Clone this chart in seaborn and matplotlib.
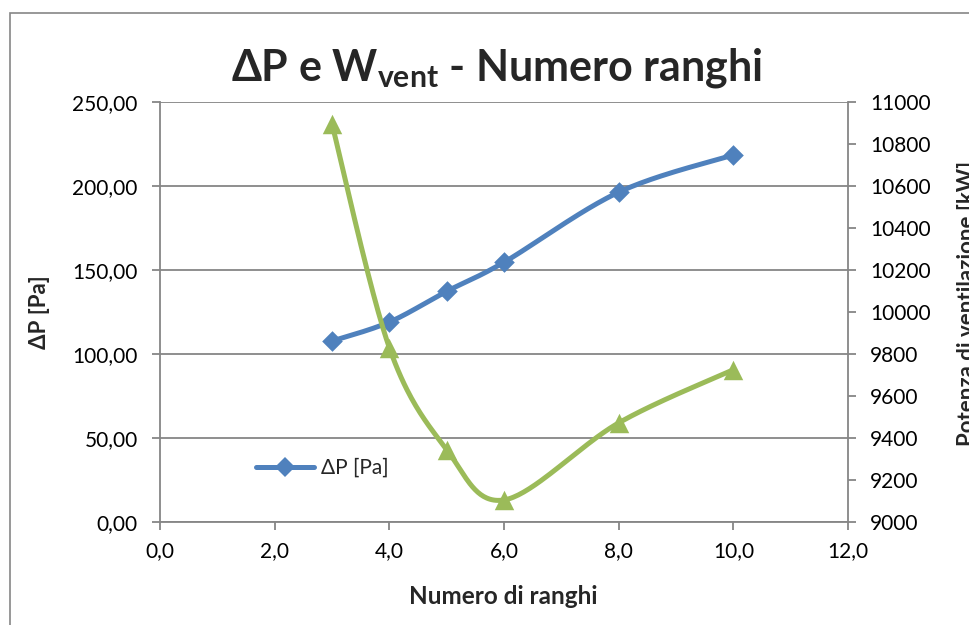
import numpy as np
import pandas as pd
import matplotlib
matplotlib.use("Agg")
import matplotlib.pyplot as plt
import seaborn as sns
from matplotlib.lines import Line2D
from matplotlib.patches import Rectangle
from matplotlib.ticker import FuncFormatter, MultipleLocator

# ---- data ----
ranghi = [3, 4, 5, 6, 8, 10]
delta_p = [107.7, 119.0, 137.3, 154.6, 196.3, 218.5]
w_vent = [10895, 9830, 9345, 9105, 9472, 9725]

title_main = "ΔP e W"
title_sub = "vent"
title_tail = " - Numero ranghi"
xlabel = "Numero di ranghi"
ylabel_left = "ΔP [Pa]"
ylabel_right = "Potenza di ventilazione [kW]"
legend_label = "ΔP [Pa]"

BLUE = "#4F81BD"
GREEN = "#9BBB59"
GRID = "#868686"

sns.set_theme(style="white")
plt.rcParams["font.family"] = ["Lato", "DejaVu Sans"]
plt.rcParams["mathtext.fontset"] = "custom"
plt.rcParams["mathtext.rm"] = "Lato"
plt.rcParams["mathtext.bf"] = "Lato:bold"


def smooth(xs, ys, n=40):
    """Excel-like smoothed line (Catmull-Rom / Bezier) through data points."""
    p = np.column_stack([xs, ys]).astype(float)
    pp = np.vstack([p[0], p, p[-1]])
    out = []
    t = np.linspace(0, 1, n)[:, None]
    for i in range(len(p) - 1):
        p0, p1, p2, p3 = pp[i], pp[i + 1], pp[i + 2], pp[i + 3]
        b1 = p1 + (p2 - p0) / 6.0
        b2 = p2 - (p3 - p1) / 6.0
        seg = ((1 - t) ** 3) * p1 + 3 * ((1 - t) ** 2) * t * b1 + 3 * (1 - t) * t ** 2 * b2 + t ** 3 * p2
        out.append(seg if i == 0 else seg[1:])
    s = np.vstack(out)
    return pd.DataFrame({"x": s[:, 0], "y": s[:, 1]})


W, H = 969, 625
fig = plt.figure(figsize=(W / 100, H / 100), dpi=100)
fig.patch.set_facecolor("white")
ax = fig.add_axes([160 / W, 1 - 522 / H, (848 - 160) / W, (522 - 102) / H])
ax2 = ax.twinx()

# chart border
fig.patches.append(Rectangle((10 / W, -0.1), 1.2, 1 - 13 / H + 0.1, transform=fig.transFigure,
                             fill=False, edgecolor=GRID, linewidth=1.2, zorder=0))

df_p = pd.DataFrame({"x": ranghi, "y": delta_p})
df_w = pd.DataFrame({"x": ranghi, "y": w_vent})

sns.lineplot(data=smooth(ranghi, delta_p), x="x", y="y", sort=False, estimator=None,
             color=BLUE, linewidth=3.6, ax=ax, legend=False)
sns.scatterplot(data=df_p, x="x", y="y", marker="D", s=10.5 ** 2, color=BLUE,
                linewidth=0, ax=ax, legend=False, zorder=5)

sns.lineplot(data=smooth(ranghi, w_vent), x="x", y="y", sort=False, estimator=None,
             color=GREEN, linewidth=3.6, ax=ax2, legend=False)
sns.scatterplot(data=df_w, x="x", y="y", marker="^", s=14 ** 2, color=GREEN,
                linewidth=0, ax=ax2, legend=False, zorder=5)

ax.set_xlim(0, 12)
ax.set_ylim(0, 250)
ax2.set_ylim(9000, 11000)
ax.xaxis.set_major_locator(MultipleLocator(2))
ax.yaxis.set_major_locator(MultipleLocator(50))
ax2.yaxis.set_major_locator(MultipleLocator(200))
ax.xaxis.set_major_formatter(FuncFormatter(lambda v, _: f"{v:.1f}".replace(".", ",")))
ax.yaxis.set_major_formatter(FuncFormatter(lambda v, _: f"{v:.2f}".replace(".", ",")))
ax2.yaxis.set_major_formatter(FuncFormatter(lambda v, _: f"{int(round(v))}"))

ax.grid(axis="y", color=GRID, linewidth=1.3)
ax.grid(axis="x", visible=False)
ax2.grid(False)
ax.set_axisbelow(True)

for a in (ax, ax2):
    a.spines["top"].set_visible(False)
    for side in ("left", "right", "bottom"):
        a.spines[side].set_color(GRID)
        a.spines[side].set_linewidth(1.3)
ax.spines["right"].set_visible(False)
ax2.spines["left"].set_visible(False)
ax2.spines["bottom"].set_visible(False)

ax.tick_params(axis="y", direction="out", length=6, width=1.3, color=GRID,
               labelsize=15, labelcolor="black", pad=10, left=True)
ax.tick_params(axis="x", direction="out", length=6, width=1.3, color=GRID,
               labelsize=15, labelcolor="black", pad=8, bottom=True)
ax2.tick_params(axis="y", direction="out", length=6, width=1.3, color=GRID,
                labelsize=15, labelcolor="black", pad=10, right=True)

ax.set_xlabel("")
ax2.set_xlabel("")
ax.set_ylabel("")
ax2.set_ylabel("")
fig.text(503 / W, 1 - 597 / H, xlabel, ha="center", va="center",
         fontsize=17.5, fontweight="bold")
fig.text(40 / W, 1 - 312 / H, ylabel_left, rotation=90, ha="center", va="center",
         fontsize=16, fontweight="bold")
fig.text(967 / W, 1 - 303 / H, ylabel_right, rotation=90, ha="center", va="center",
         fontsize=16, fontweight="bold")

fig.text(497 / W, 1 - 80 / H, title_main + r"$_{\mathbf{" + title_sub + "}}$" + title_tail,
         ha="center", va="baseline", fontsize=31, fontweight="bold")

handle = Line2D([], [], color=BLUE, linewidth=3.6, marker="D", markersize=10.5,
                markeredgewidth=0)
ax.legend(handles=[handle], labels=[legend_label], loc="center left",
          bbox_to_anchor=((256 - 160) / 688, (522 - 468) / 420), frameon=False,
          fontsize=15, handlelength=2.8, handletextpad=0.3, borderpad=0, borderaxespad=0)

fig.savefig("out.png", dpi=100)
